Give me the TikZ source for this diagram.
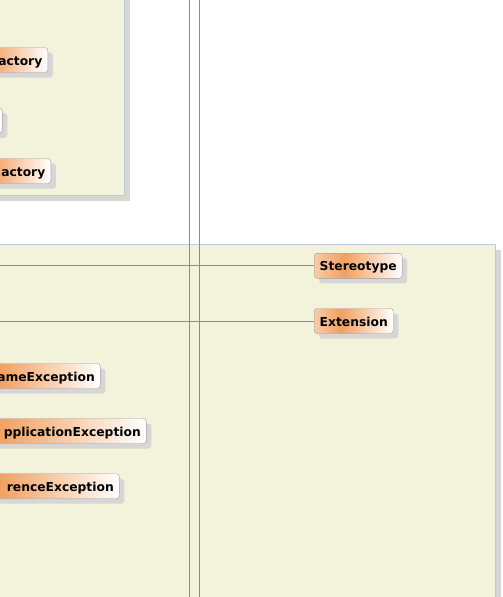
\documentclass[tikz,border=0pt]{standalone}
\usepackage{fontspec}
\setsansfont{DejaVu Sans}
\usepackage{tikz}
\usetikzlibrary{positioning,shadows}
\definecolor{panelfill}{RGB}{243,243,220}
\definecolor{panelline}{RGB}{192,200,218}
\definecolor{shadowgrey}{RGB}{214,214,214}
\definecolor{nodeline}{RGB}{158,158,158}
\definecolor{linkgrey}{RGB}{140,140,140}
\definecolor{peach}{RGB}{248,204,168}
\definecolor{orangemid}{RGB}{242,160,96}
\pgfdeclarehorizontalshading{clsshade}{100bp}{color(0bp)=(peach); color(25bp)=(peach);
  color(42bp)=(orangemid); color(75bp)=(white); color(100bp)=(white)}
\tikzset{cls/.style={draw=nodeline, shading=clsshade, rounded corners=3pt,
    minimum height=25pt, inner xsep=5.5pt, inner ysep=0pt, text height=12pt, text depth=2pt,
    font=\sffamily\bfseries\fontsize{12.3}{14}\selectfont,
    drop shadow={shadow xshift=5pt, shadow yshift=-5pt, fill=shadowgrey, opacity=1}},
  panel/.style={draw=panelline, fill=panelfill,
    drop shadow={shadow xshift=5pt, shadow yshift=-5pt, fill=shadowgrey, opacity=1}},
  link/.style={draw=linkgrey, line width=0.9pt}
}

\begin{document}
\begin{tikzpicture}[x=1pt, y=-1pt, node distance=55pt, on grid]
    \useasboundingbox (0,0) rectangle (503,597);

    % packages
    \draw[panel] (-20,-20) rectangle (124.5,195.5);
    \draw[panel] (-20,244.5) rectangle (495.5,640);

    % upper package
    \node[cls, anchor=east, text width=78pt, align=right] (factA) at (48,60)    {actory};
    \node[cls, anchor=east, text width=60pt, align=right] (boxB)  at (2.5,120.5) {};
    \node[cls, anchor=east, text width=80pt, align=right] (factC) at (51,171)   {actory};

    % lower package
    \node[cls, anchor=west] (stereo) at (314,265.8) {Stereotype};
    \node[cls] (ext) [below=55.2pt of stereo.west, anchor=west] {Extension};

    \node[cls, anchor=east, text width=142pt, align=right] (nameExc) at (100.5,376)   {ameException};
    \node[cls, anchor=east, text width=212pt, align=right] (applExc) at (146.5,431)   {pplicationException};
    \node[cls, anchor=east, text width=170pt, align=right] (refExc)  at (119.5,486.2) {renceException};

    % free ends
    \coordinate (vAtop) at (189.5,0);
    \coordinate (vAbot) at (189.5,597);
    \coordinate (vBtop) at (199.5,0);
    \coordinate (vBbot) at (199.5,597);
    \coordinate (hA) at (0,265.8);
    \coordinate (hB) at (0,321);

    \draw[link] (vAtop) -- (vAbot);
    \draw[link] (vBtop) -- (vBbot);
    \draw[link] (hA) -- (stereo.west);
    \draw[link] (hB) -- (ext.west);
\end{tikzpicture}
\end{document}
